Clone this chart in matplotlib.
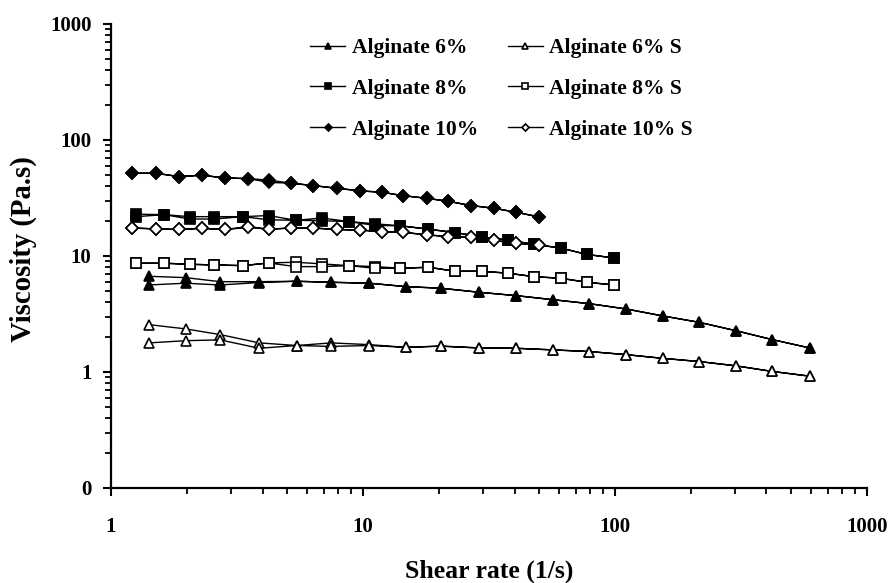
import numpy as np
import matplotlib
matplotlib.use("Agg")
import matplotlib.pyplot as plt
from matplotlib.ticker import FixedLocator, LogLocator, NullFormatter

plt.rcParams['font.family'] = ['Liberation Serif', 'DejaVu Serif']
plt.rcParams['font.weight'] = 'bold'

# shear rates (1/s), same points used for up and down sweep
x_6 = [1.41, 1.98, 2.71, 3.88, 5.46, 7.47, 10.6, 14.8, 20.4, 29.0, 40.5,
       56.6, 79.1, 111, 155, 216, 302, 422, 594]
x_8 = [1.26, 1.63, 2.05, 2.56, 3.35, 4.22, 5.41, 6.9, 8.78, 11.2, 14.1,
       18.2, 23.2, 29.6, 37.7, 47.7, 60.9, 77.6, 99.4]
x_10 = [1.215, 1.51, 1.86, 2.29, 2.84, 3.5, 4.25, 5.17, 6.35, 7.9, 9.73,
        11.9, 14.4, 17.9, 21.8, 26.8, 33.0, 40.6, 50.0]

# viscosity (Pa.s) - up sweep / down sweep
y_6_up = [6.68, 6.5, 6.0, 6.0, 6.05, 5.93, 5.82, 5.44, 5.27, 4.86, 4.55,
          4.2, 3.88, 3.49, 3.04, 2.68, 2.27, 1.9, 1.61]
y_6_dn = [5.62, 5.82, 5.62, 5.9, 6.05, 5.93, 5.82, 5.44, 5.27, 4.86, 4.55,
          4.2, 3.88, 3.49, 3.04, 2.68, 2.27, 1.9, 1.61]
y_6s_up = [2.56, 2.35, 2.1, 1.78, 1.69, 1.78, 1.72, 1.63, 1.67, 1.61, 1.6,
           1.55, 1.5, 1.41, 1.31, 1.23, 1.13, 1.01, 0.92]
y_6s_dn = [1.78, 1.86, 1.89, 1.6, 1.69, 1.66, 1.69, 1.63, 1.67, 1.61, 1.6,
           1.55, 1.5, 1.41, 1.31, 1.23, 1.13, 1.01, 0.92]
y_8_up = [22.9, 22.7, 21.8, 21.8, 21.8, 22.3, 20.3, 21.2, 19.8, 18.9, 18.2,
          17.0, 15.9, 14.6, 13.7, 12.6, 11.7, 10.3, 9.6]
y_8_dn = [21.8, 22.7, 20.8, 20.8, 21.8, 20.5, 20.3, 20.1, 19.8, 18.3, 18.2,
          17.0, 15.9, 14.6, 13.7, 12.6, 11.7, 10.3, 9.6]
y_8s_up = [8.65, 8.65, 8.48, 8.36, 8.25, 8.7, 8.83, 8.53, 8.25, 8.09, 7.83,
           7.99, 7.38, 7.38, 7.1, 6.63, 6.42, 5.93, 5.62]
y_8s_dn = [8.65, 8.65, 8.48, 8.36, 8.25, 8.7, 8.09, 8.09, 8.25, 7.83, 7.83,
           7.99, 7.38, 7.38, 7.1, 6.63, 6.42, 5.93, 5.62]
y_10_up = [51.6, 51.6, 48.3, 49.6, 47.0, 46.4, 45.0, 42.4, 40.4, 38.3, 36.4,
           35.4, 33.1, 31.4, 29.6, 27.2, 25.8, 23.8, 21.7]
y_10_dn = [51.6, 51.6, 48.3, 49.6, 47.0, 46.4, 43.0, 42.4, 40.4, 38.3, 36.4,
           35.4, 33.1, 31.4, 29.6, 27.2, 25.8, 23.8, 21.7]
y_10s_up = [17.4, 17.1, 16.9, 17.3, 16.9, 17.9, 17.0, 17.4, 17.4, 16.9, 16.7,
            16.2, 16.0, 15.2, 14.7, 14.5, 13.6, 12.9, 12.4]
y_10s_dn = [17.4, 17.1, 16.9, 17.3, 16.9, 17.6, 17.0, 17.4, 17.4, 16.9, 16.7,
            16.2, 16.0, 15.2, 14.7, 14.5, 13.6, 12.9, 12.4]

labels = ['Alginate 6%', 'Alginate 8%', 'Alginate 10%',
          'Alginate 6% S', 'Alginate 8% S', 'Alginate 10% S']
y_ticks = [0.1, 1, 10, 100, 1000]
y_ticklabels = ['0', '1', '10', '100', '1000']
x_ticks = [1, 10, 100, 1000]
x_ticklabels = ['1', '10', '100', '1000']


def loop(x, up, dn):
    # up sweep then back down
    return list(x) + list(x)[::-1], list(up) + list(dn)[::-1]


series = [
    (x_6, y_6_up, y_6_dn, '^', 'black', 7.5),
    (x_8, y_8_up, y_8_dn, 's', 'black', 6.5),
    (x_10, y_10_up, y_10_dn, 'D', 'black', 6.0),
    (x_6, y_6s_up, y_6s_dn, '^', 'white', 7.5),
    (x_8, y_8s_up, y_8s_dn, 's', 'white', 6.5),
    (x_10, y_10s_up, y_10s_dn, 'D', 'white', 6.0),
]

fig = plt.figure(figsize=(8.88, 5.83), dpi=100)
ax = fig.add_axes([0.125, 0.163, 0.851, 0.796])

for (x, up, dn, m, fc, ms), lab in zip(series, labels):
    xs, ys = loop(x, up, dn)
    ax.plot(xs, ys, color='black', lw=1.0, marker=m, markersize=ms,
            markerfacecolor=fc, markeredgecolor='black', markeredgewidth=1.2,
            label=lab)

ax.set_xscale('log')
ax.set_yscale('log')
ax.set_xlim(1, 1000)
ax.set_ylim(0.1, 1000)

ax.yaxis.set_major_locator(FixedLocator(y_ticks))
ax.set_yticklabels(y_ticklabels)
ax.xaxis.set_major_locator(FixedLocator(x_ticks))
ax.set_xticklabels(x_ticklabels)
ax.xaxis.set_minor_locator(LogLocator(base=10, subs=np.arange(2, 10)))
ax.yaxis.set_minor_locator(LogLocator(base=10, subs=np.arange(2, 10)))
ax.xaxis.set_minor_formatter(NullFormatter())
ax.yaxis.set_minor_formatter(NullFormatter())

for s in ['top', 'right']:
    ax.spines[s].set_visible(False)
for s in ['left', 'bottom']:
    ax.spines[s].set_linewidth(1.6)

ax.tick_params(which='major', direction='out', length=6, width=1.5,
               labelsize=15)
ax.tick_params(which='minor', direction='out', length=4, width=1.3)
ax.tick_params(axis='x', which='major', pad=15)
ax.tick_params(axis='y', which='major', pad=8)

ax.set_xlabel('Shear rate (1/s)', fontsize=18.5, fontweight='bold', labelpad=16)
ax.set_ylabel('Viscosity (Pa.s)', fontsize=20.7, fontweight='bold')
ax.yaxis.set_label_coords(-0.098, 0.515)

ax.legend(loc='upper left', bbox_to_anchor=(310 / 888, 1 - 38 / 583),
          bbox_transform=fig.transFigure, borderpad=0, borderaxespad=0,
          ncol=2, frameon=False, fontsize=15.5, handlelength=1.63,
          handletextpad=0.3, columnspacing=1.4, labelspacing=0.97,
          markerscale=0.6)

fig.savefig('out.png', dpi=100)
